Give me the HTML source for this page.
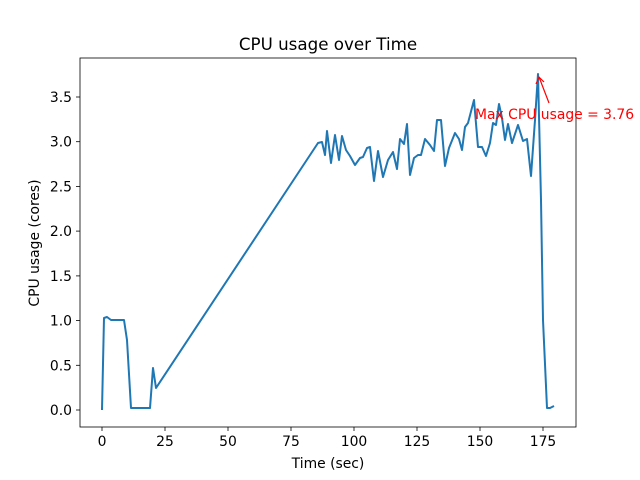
<!DOCTYPE html>
<html><head><style>body{margin:0;background:#fff}svg{display:block}text{font-family:"DejaVu Sans","Liberation Sans",sans-serif}</style></head><body>
<svg width="640" height="480" xmlns="http://www.w3.org/2000/svg">
<rect width="640" height="480" fill="#fff"/>
<polyline fill="none" stroke="#1f77b4" stroke-width="2" stroke-linejoin="round" points="102,410 104,318 107,317 111,320 124,320 127,340 131,408 150,408 153,368 156,388 318,143 322,142 325,155 327,131 331,163 335,135 339,160 342,136 346,150 350,156 355,165 360,158 363,157 367,148 370,147 374,181 378,151 383,177 388,160 393,152 397,169 400,139 404,144 407,124 410,175 414,158 418,155 421,155 425,139 430,145 434,151 437,120 441,120 445,166 449,148 455,133 459,139 462,150 465,127 468,123 474,100 478,147 482,147 486,156 490,143 493,123 496,125 499,104 502,118 505,140 508,124 512,143 518,125 523,141 527,139 531,176 535,120 538,74 541,200 543,320 547,408 550,408 554,406"/>
<rect x="80" y="58" width="496" height="369" fill="none" stroke="#000" stroke-width="0.8"/>
<g stroke="#000" stroke-width="0.8">
<line x1="102" y1="427" x2="102" y2="431"/><line x1="165" y1="427" x2="165" y2="431"/><line x1="228" y1="427" x2="228" y2="431"/><line x1="291" y1="427" x2="291" y2="431"/><line x1="354" y1="427" x2="354" y2="431"/><line x1="417" y1="427" x2="417" y2="431"/><line x1="480" y1="427" x2="480" y2="431"/><line x1="543" y1="427" x2="543" y2="431"/>
<line x1="76" y1="410" x2="80" y2="410"/><line x1="76" y1="365.3" x2="80" y2="365.3"/><line x1="76" y1="320.6" x2="80" y2="320.6"/><line x1="76" y1="275.9" x2="80" y2="275.9"/><line x1="76" y1="231.1" x2="80" y2="231.1"/><line x1="76" y1="186.4" x2="80" y2="186.4"/><line x1="76" y1="141.7" x2="80" y2="141.7"/><line x1="76" y1="97" x2="80" y2="97"/>
</g>
<g font-size="13.9" text-anchor="middle">
<text x="102" y="446">0</text><text x="165" y="446">25</text><text x="228" y="446">50</text><text x="291" y="446">75</text><text x="354" y="446">100</text><text x="417" y="446">125</text><text x="480" y="446">150</text><text x="543" y="446">175</text>
</g>
<g font-size="13.9" text-anchor="end">
<text x="72" y="415">0.0</text><text x="72" y="370.3">0.5</text><text x="72" y="325.6">1.0</text><text x="72" y="280.9">1.5</text><text x="72" y="236.1">2.0</text><text x="72" y="191.4">2.5</text><text x="72" y="146.7">3.0</text><text x="72" y="102">3.5</text>
</g>
<text x="328" y="468" font-size="13.9" text-anchor="middle">Time (sec)</text>
<text x="39" y="243" font-size="13.9" text-anchor="middle" transform="rotate(-90 39 243)">CPU usage (cores)</text>
<text x="328" y="50" font-size="16.7" text-anchor="middle">CPU usage over Time</text>
<line x1="549" y1="103" x2="539" y2="77" stroke="red" stroke-width="1.2"/>
<polyline points="536,84 539,77 544,82" fill="none" stroke="red" stroke-width="1.2"/>
<text x="475" y="119" font-size="13.9" fill="red">Max CPU usage = 3.76</text>
</svg>
</body></html>
